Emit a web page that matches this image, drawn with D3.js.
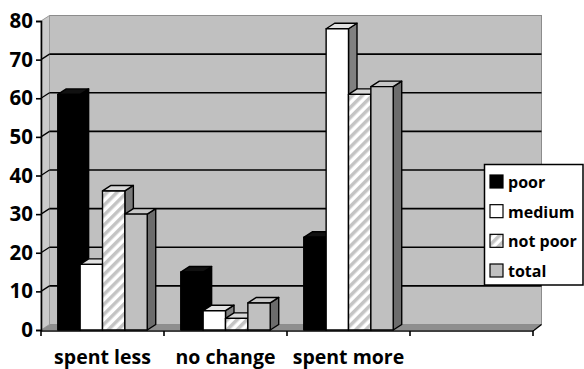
<!DOCTYPE html>
<html>
<head>
<meta charset="utf-8">
<script src="https://cdn.jsdelivr.net/npm/d3@7"></script>
<style>
  html, body { margin: 0; padding: 0; background: #fff; }
  svg { display: block; font-family: "Open Sans", "DejaVu Sans", sans-serif; font-weight: 700; }
</style>
</head>
<body>
<svg id="chart" width="584" height="369"></svg>
<script>
// Share of households by change in spending, per poverty group (%)
const categories = ["spent less", "no change", "spent more"];
const seriesNames = ["poor", "medium", "not poor", "total"];
const poor = [61, 15, 24];
const medium = [17, 5, 78];
const notPoor = [36, 3, 61];
const total = [30, 7, 63];
const yTicks = [0, 10, 20, 30, 40, 50, 60, 70, 80];

const seriesValues = [poor, medium, notPoor, total];

const svg = d3.select("#chart");

// Front plane of the 3-D box and the depth offset to the back wall
const x = d3.scaleBand().domain([...categories, ""]).range([41, 533]).paddingInner(0).paddingOuter(0);
const xs = d3.scaleBand().domain(seriesNames).range([0, x.bandwidth()]).paddingInner(0).paddingOuter(0.75);
const y = d3.scaleLinear().domain([0, 80]).range([330, 21]);
const dx = 8.5, dy = -5.5;

// Hatch pattern for "not poor"
const defs = svg.append("defs");
const pat = defs.append("pattern")
  .attr("id", "hatch").attr("patternUnits", "userSpaceOnUse")
  .attr("width", 7).attr("height", 7)
  .attr("patternTransform", "rotate(45)");
pat.append("rect").attr("width", 7).attr("height", 7).attr("fill", "#ffffff");
pat.append("rect").attr("width", 3.5).attr("height", 7).attr("fill", "#c4c4c4");

const styles = [
  { front: "#000000", top: "#111111", side: "#000000" },
  { front: "#ffffff", top: "#e2e2e2", side: "#808080" },
  { front: "url(#hatch)", top: "#d8d8d8", side: "#7a7a7a" },
  { front: "#c0c0c0", top: "#c8c8c8", side: "#6c6c6c" }
];

const x0 = x.range()[0], x1 = x.range()[1];
const yTop = y(80), yBase = y(0);

// Back wall
svg.append("rect")
  .attr("x", x0 + dx).attr("y", yTop + dy)
  .attr("width", x1 - x0).attr("height", yBase - yTop)
  .attr("fill", "#c0c0c0").attr("stroke", "#8c8c8c").attr("stroke-width", 1);

// Side wall
svg.append("path")
  .attr("d", `M${x0},${yTop} L${x0 + dx},${yTop + dy} L${x0 + dx},${yBase + dy} L${x0},${yBase} Z`)
  .attr("fill", "#cbcbcb").attr("stroke", "#9a9a9a").attr("stroke-width", 1);

// Floor
svg.append("path")
  .attr("d", `M${x0},${yBase} L${x0 + dx},${yBase + dy} L${x1 + dx},${yBase + dy} L${x1},${yBase} Z`)
  .attr("fill", "#8e8e8e");
svg.append("line")
  .attr("x1", x1).attr("y1", yBase + 1).attr("x2", x1 + dx).attr("y2", yBase + dy)
  .attr("stroke", "#000").attr("stroke-width", 1.5);

// Gridlines on back and side walls
const grid = yTicks.filter(t => t > 0 && t < 80);
svg.append("g").selectAll("line.back").data(grid).join("line")
  .attr("x1", x0 + dx).attr("x2", x1 + dx)
  .attr("y1", d => y(d) + dy).attr("y2", d => y(d) + dy)
  .attr("stroke", "#000").attr("stroke-width", 1.6);
svg.append("g").selectAll("line.side").data(grid).join("line")
  .attr("x1", x0).attr("x2", x0 + dx)
  .attr("y1", d => y(d)).attr("y2", d => y(d) + dy)
  .attr("stroke", "#000").attr("stroke-width", 1.2);

// Bars, drawn left to right so each one hides its neighbour's side face
const bars = [];
categories.forEach((c, ci) => {
  seriesNames.forEach((s, si) => {
    bars.push({ c, s, si, v: seriesValues[si][ci] });
  });
});

const gBars = svg.append("g")
  .attr("stroke", "#000").attr("stroke-width", 1.4).attr("stroke-linejoin", "round");

bars.forEach(b => {
  const bx = x(b.c) + xs(b.s);
  const bw = xs.bandwidth();
  const yv = y(b.v);
  const st = styles[b.si];
  const g = gBars.append("g");
  // side face
  g.append("path")
    .attr("d", `M${bx + bw},${yv} L${bx + bw + dx},${yv + dy} L${bx + bw + dx},${yBase + dy} L${bx + bw},${yBase} Z`)
    .attr("fill", st.side);
  // top face
  g.append("path")
    .attr("d", `M${bx},${yv} L${bx + dx},${yv + dy} L${bx + bw + dx},${yv + dy} L${bx + bw},${yv} Z`)
    .attr("fill", st.top);
  // front face
  g.append("rect")
    .attr("x", bx).attr("y", yv).attr("width", bw).attr("height", yBase - yv)
    .attr("fill", st.front);
});

// Value axis
const yAxis = svg.append("g")
  .attr("transform", `translate(${x0},0)`)
  .call(d3.axisLeft(y).tickValues(yTicks).tickSize(5).tickPadding(3).tickFormat(d3.format("d")));
yAxis.select(".domain").attr("stroke", "#000").attr("stroke-width", 1.6);
yAxis.selectAll(".tick line").attr("stroke", "#000").attr("stroke-width", 1.6);
yAxis.selectAll(".tick text")
  .attr("fill", "#000").style("font-family", "'Open Sans', sans-serif")
  .style("font-weight", 700).style("font-size", "20.5px");

// Category axis
const xEdges = [...x.domain().map(d => x(d)), x1];
svg.append("line")
  .attr("x1", x0).attr("x2", x1).attr("y1", yBase + 1).attr("y2", yBase + 1)
  .attr("stroke", "#000").attr("stroke-width", 1.6);
svg.append("g").selectAll("line").data(xEdges).join("line")
  .attr("x1", d => d).attr("x2", d => d)
  .attr("y1", yBase + 1).attr("y2", yBase + 6)
  .attr("stroke", "#000").attr("stroke-width", 1.6);
svg.append("g").selectAll("text").data(categories).join("text")
  .attr("x", d => x(d) + x.bandwidth() / 2)
  .attr("y", 364)
  .attr("text-anchor", "middle")
  .style("font-size", "19.5px")
  .attr("fill", "#000")
  .text(d => d);

// Legend
const lg = svg.append("g");
lg.append("rect")
  .attr("x", 484.5).attr("y", 164.5).attr("width", 98.5).attr("height", 120.5)
  .attr("fill", "#fff").attr("stroke", "#000").attr("stroke-width", 1.5);
const legendY = d3.scalePoint().domain(seriesNames).range([182, 271]);
const swatchFill = ["#000000", "#ffffff", "url(#hatch)", "#c0c0c0"];
seriesNames.forEach((s, i) => {
  lg.append("rect")
    .attr("x", 490).attr("y", legendY(s) - 7).attr("width", 13).attr("height", 13)
    .attr("fill", swatchFill[i]).attr("stroke", "#000").attr("stroke-width", 1.2);
  lg.append("text")
    .attr("x", 508).attr("y", legendY(s))
    .attr("dominant-baseline", "central")
    .style("font-size", "16px")
    .attr("fill", "#000")
    .text(s);
});
</script>
</body>
</html>
